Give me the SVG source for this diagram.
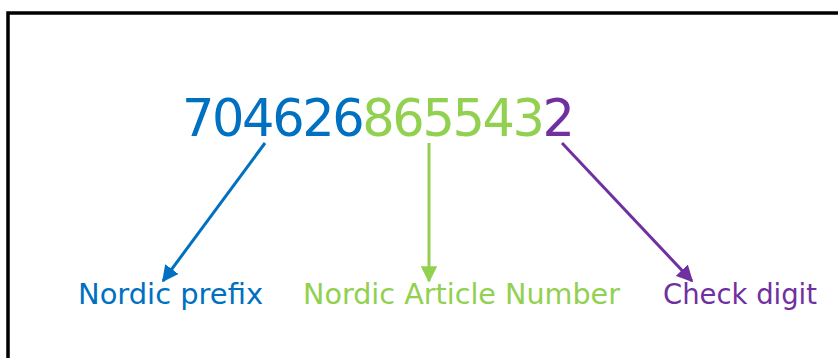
<svg xmlns="http://www.w3.org/2000/svg" width="838" height="358" viewBox="0 0 838 358">
<style>
text{font-family:"DejaVu Sans","Verdana",sans-serif}
.num{font-size:51px;letter-spacing:-2.4px}
.lbl{font-size:28px}
.blue{fill:#0070C0}.green{fill:#92D050}.purple{fill:#7030A0}
.conn line{stroke-width:3;fill:none}
</style>
<defs>
<marker id="ab" viewBox="0 0 10 10" refX="9" refY="5" markerWidth="5.5" markerHeight="5.5" markerUnits="strokeWidth" orient="auto"><path d="M0,0L10,5L0,10z" fill="#0070C0"/></marker>
<marker id="ag" viewBox="0 0 10 10" refX="9" refY="5" markerWidth="5.5" markerHeight="5.5" markerUnits="strokeWidth" orient="auto"><path d="M0,0L10,5L0,10z" fill="#92D050"/></marker>
<marker id="ap" viewBox="0 0 10 10" refX="9" refY="5" markerWidth="5.5" markerHeight="5.5" markerUnits="strokeWidth" orient="auto"><path d="M0,0L10,5L0,10z" fill="#7030A0"/></marker>
</defs>
<rect x="8" y="13" width="900" height="400" fill="#fff" stroke="#000" stroke-width="3.5"/>
<g id="number">
<text class="num" x="182" y="136"><tspan class="blue">704626</tspan><tspan class="green">865543</tspan><tspan class="purple">2</tspan></text>
</g>
<g id="prefix"><text class="lbl blue" x="78" y="304" textLength="185" lengthAdjust="spacingAndGlyphs">Nordic prefix</text></g>
<g id="article"><text class="lbl green" x="303" y="304" textLength="317" lengthAdjust="spacingAndGlyphs">Nordic Article Number</text></g>
<g id="check"><text class="lbl purple" x="663" y="304" textLength="154" lengthAdjust="spacingAndGlyphs">Check digit</text></g>
<g id="connectors" class="conn">
<line x1="265" y1="143" x2="163" y2="281" stroke="#0070C0" marker-end="url(#ab)"/>
<line x1="429" y1="143" x2="429" y2="281" stroke="#92D050" marker-end="url(#ag)"/>
<line x1="562" y1="143" x2="692" y2="281" stroke="#7030A0" marker-end="url(#ap)"/>
</g>
</svg>
